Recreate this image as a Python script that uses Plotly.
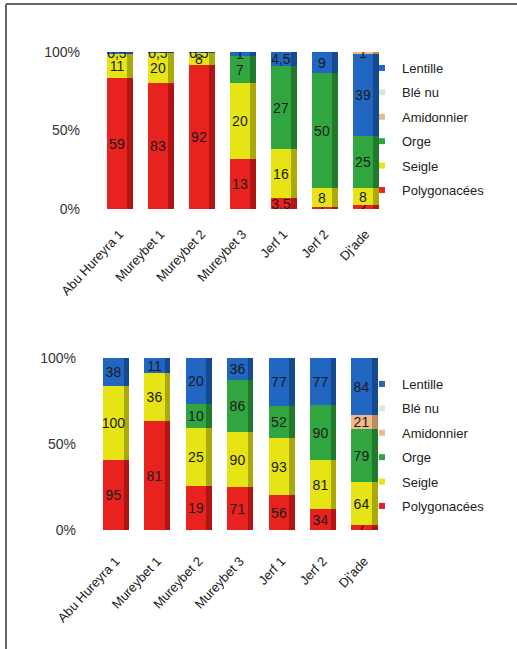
import plotly.graph_objects as go

# Sites (x categories)
sites = ["Abu Hureyra 1", "Mureybet 1", "Mureybet 2", "Mureybet 3", "Jerf 1", "Jerf 2", "Dj'ade"]

# Upper chart: counts per taxon
top_polygonacees = [59, 83, 92, 13, 3.5, 1, 2]
top_seigle = [11, 20, 8, 20, 16, 8, 8]
top_orge = [0, 0, 0, 7, 27, 50, 25]
top_lentille = [0.5, 0.5, 0.5, 1, 4.5, 9, 39]
top_amidonnier = [0, 0, 0, 0, 0, 0, 1]
top_ble_nu = [0, 0, 0, 0, 0, 0, 0]

# Lower chart: counts per taxon
bot_polygonacees = [95, 81, 19, 71, 56, 34, 7]
bot_seigle = [100, 36, 25, 90, 93, 81, 64]
bot_orge = [0, 0, 10, 86, 52, 90, 79]
bot_amidonnier = [0, 0, 0, 0, 0, 0, 21]
bot_ble_nu = [0, 0, 0, 0, 0, 0, 0]
bot_lentille = [38, 11, 20, 36, 77, 77, 84]

# Legend order (top to bottom)
legend_names = ["Lentille", "Blé nu", "Amidonnier", "Orge", "Seigle", "Polygonacées"]

colors = {
    "Polygonacées": "#e8231f",
    "Seigle": "#e6e414",
    "Orge": "#31a640",
    "Amidonnier": "#efb98a",
    "Blé nu": "#d9e8d2",
    "Lentille": "#2166c0",
}
side_colors = {
    "Polygonacées": "#b01511",
    "Seigle": "#a9a90c",
    "Orge": "#217a2c",
    "Amidonnier": "#c08a60",
    "Blé nu": "#a8b8a2",
    "Lentille": "#154a8e",
}

FONT = "Liberation Sans, Arial, sans-serif"


def fmt(v):
    if v == 0:
        return ""
    if float(v).is_integer():
        return str(int(v))
    return str(v).replace(".", ",")


fig = go.Figure()


def add_stack(series, xa, ya):
    """series: list of (name, values) from bottom to top; drawn as 100% stacked pseudo-3D bars."""
    totals = [sum(vals[i] for _, vals in series) for i in range(len(sites))]
    base = [0.0] * len(sites)
    for name, vals in series:
        pct = [v / t * 100 for v, t in zip(vals, totals)]
        # darker right-hand side face
        fig.add_trace(go.Bar(
            x=sites, y=pct, base=list(base), width=0.13, offset=0.19,
            marker=dict(color=side_colors[name], line=dict(width=0)),
            showlegend=False, hoverinfo="skip", xaxis=xa, yaxis=ya,
        ))
        # front face with value label
        fig.add_trace(go.Bar(
            x=sites, y=pct, base=list(base), width=0.5, offset=-0.31,
            marker=dict(color=colors[name], line=dict(width=0)),
            text=[fmt(v) for v in vals], textposition="inside",
            insidetextanchor="middle", textangle=0, constraintext="none",
            textfont=dict(family=FONT, size=14, color="#1a1a1a"),
            showlegend=False, name=name, xaxis=xa, yaxis=ya,
        ))
        base = [b + p for b, p in zip(base, pct)]


add_stack([
    ("Polygonacées", top_polygonacees),
    ("Seigle", top_seigle),
    ("Orge", top_orge),
    ("Blé nu", top_ble_nu),
    ("Lentille", top_lentille),
    ("Amidonnier", top_amidonnier),
], "x", "y")

add_stack([
    ("Polygonacées", bot_polygonacees),
    ("Seigle", bot_seigle),
    ("Orge", bot_orge),
    ("Amidonnier", bot_amidonnier),
    ("Blé nu", bot_ble_nu),
    ("Lentille", bot_lentille),
], "x2", "y2")

# legend entries (small square markers)
for lg, xa, ya in (("legend", "x", "y"), ("legend2", "x2", "y2")):
    for name in legend_names:
        fig.add_trace(go.Scatter(
            x=[None], y=[None], mode="markers", name=name,
            marker=dict(symbol="square", size=6, color=colors[name]),
            legend=lg, legendgroup=lg + name, xaxis=xa, yaxis=ya,
        ))

W, H = 517, 649


def py(p):
    return 1 - p / H


axis_x = dict(
    type="category", range=[-0.5, 6.5], showgrid=False, zeroline=False,
    showline=False, ticks="", tickangle=-47, automargin=False,
    tickfont=dict(family=FONT, size=13, color="#222"), ticklabelstandoff=14,
)
axis_y = dict(
    range=[0, 100], tickvals=[0, 50, 100], ticktext=["0%", "50%", "100%"],
    showgrid=False, zeroline=False, showline=False, ticks="", automargin=False,
    tickfont=dict(family=FONT, size=14, color="#333"), ticklabelstandoff=18,
)

legend_common = dict(
    xanchor="left", yanchor="top", bgcolor="rgba(0,0,0,0)",
    font=dict(family=FONT, size=13, color="#222"),
    traceorder="grouped", tracegroupgap=4.5, itemwidth=30,
)

fig.update_layout(
    width=W, height=H, margin=dict(l=0, r=0, t=0, b=0),
    paper_bgcolor="white", plot_bgcolor="white",
    barmode="overlay", bargap=0,
    xaxis=dict(axis_x, domain=[99 / W, 386 / W], anchor="y"),
    yaxis=dict(axis_y, domain=[py(209), py(52)], anchor="x"),
    xaxis2=dict(axis_x, domain=[95 / W, 385 / W], anchor="y2", ticklabelstandoff=20),
    yaxis2=dict(axis_y, domain=[py(530), py(358)], anchor="x2"),
    legend=dict(legend_common, x=362 / W, y=py(53)),
    legend2=dict(legend_common, x=362 / W, y=py(369)),
    shapes=[
        dict(type="line", xref="paper", yref="paper", x0=6 / W, x1=1, y0=py(4), y1=py(4),
             line=dict(color="#666", width=2)),
        dict(type="line", xref="paper", yref="paper", x0=6 / W, x1=6 / W, y0=py(4), y1=0,
             line=dict(color="#666", width=2)),
    ],
)

fig.write_html("out.html")
